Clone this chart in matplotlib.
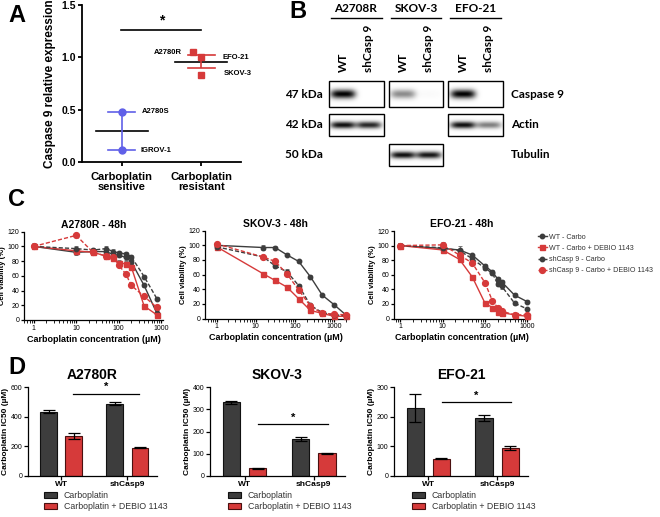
import numpy as np
import matplotlib
matplotlib.use('Agg')
import matplotlib.pyplot as plt
from matplotlib.lines import Line2D
from matplotlib.patches import Rectangle, Patch

plt.rcParams['font.family'] = ['Liberation Sans', 'DejaVu Sans']
plt.rcParams['axes.linewidth'] = 0.9

W, H = 660, 517
fig = plt.figure(figsize=(6.6, 5.17), dpi=100)


def add_ax(l, t, r, b):
    return fig.add_axes([l / W, 1 - b / H, (r - l) / W, (b - t) / H])


DARK = '#3d3d3d'
RED = '#d63a3a'
BLUE = '#6060e8'

# ---------------- Panel A data ----------------
a_groups = ['Carboplatin\nsensitive', 'Carboplatin\nresistant']
a_sens_names = ['A2780S', 'IGROV-1']
a_sens_vals = [0.48, 0.11]
a_res_names = ['A2780R', 'EFO-21', 'SKOV-3']
a_res_vals = [1.05, 1.00, 0.83]

# ---------------- Panel B data ----------------
b_lines = ['A2708R', 'SKOV-3', 'EFO-21']
b_lanes = ['WT', 'shCasp 9']
b_proteins = ['Caspase 9', 'Actin', 'Tubulin']
b_kda = ['47 kDa', '42 kDa', '50 kDa']
# band intensity per protein, per cell line, per lane (None = not probed)
b_caspase9 = [[1.0, 0.0], [0.45, 0.02], [1.0, 0.0]]
b_actin = [[0.95, 0.85], None, [0.95, 0.5]]
b_tubulin = [None, [0.95, 0.92], None]

# ---------------- Panel C data ----------------
c_series = ['WT - Carbo', 'WT - Carbo + DEBIO 1143',
            'shCasp 9 - Carbo', 'shCasp 9 - Carbo + DEBIO 1143']

c1_title = 'A2780R - 48h'
c1_conc = [1, 10, 25, 50, 75, 100, 150, 200, 400, 800]
c1_wt = [100, 92, 93, 93, 89, 88, 85, 79, 47, 9]
c1_wt_deb = [100, 94, 92, 87, 84, 78, 76, 72, 19, 7]
c1_sh = [100, 97, 95, 97, 93, 91, 90, 86, 59, 29]
c1_sh_deb = [100, 115, 92, 87, 86, 75, 62, 47, 32, 17]
c1_wt_err = [4, 4, 3, 3, 3, 3, 3, 3, 2, 2]
c1_wt_deb_err = [3, 3, 3, 2, 3, 3, 4, 3, 3, 2]
c1_sh_err = [3, 3, 3, 4, 4, 3, 3, 3, 2, 2]
c1_sh_deb_err = [3, 2, 3, 2, 2, 3, 2, 2, 2, 3]

c2_title = 'SKOV-3 - 48h'
c2_conc = [1, 15.625, 31.25, 62.5, 125, 250, 500, 1000, 2000]
c2_wt = [100, 97, 97, 87, 78, 57, 32, 19, 5]
c2_wt_deb = [98, 61, 52, 43, 27, 11, 7, 3, 3]
c2_sh = [98, 84, 72, 64, 45, 18, 8, 5, 4]
c2_sh_deb = [102, 84, 78, 61, 39, 17, 7, 6, 5]
c2_wt_err = [2, 3, 2, 2, 2, 2, 2, 2, 2]
c2_wt_deb_err = [2, 2, 2, 2, 2, 2, 2, 2, 2]
c2_sh_err = [2, 2, 3, 3, 2, 2, 2, 2, 2]
c2_sh_deb_err = [2, 2, 2, 2, 2, 2, 2, 2, 2]

c3_title = 'EFO-21 - 48h'
c3_conc = [1, 10, 25, 50, 100, 150, 200, 250, 500, 1000]
c3_wt = [100, 96, 94, 87, 72, 64, 54, 50, 32, 23]
c3_wt_deb = [100, 94, 81, 57, 21, 15, 9, 8, 5, 3]
c3_sh = [100, 97, 93, 82, 69, 62, 47, 44, 21, 13]
c3_sh_deb = [100, 101, 87, 76, 49, 24, 15, 10, 5, 5]
c3_wt_err = [3, 3, 6, 2, 3, 3, 3, 3, 3, 2]
c3_wt_deb_err = [3, 3, 2, 2, 2, 2, 2, 2, 2, 2]
c3_sh_err = [4, 5, 3, 2, 3, 3, 3, 3, 2, 2]
c3_sh_deb_err = [3, 4, 2, 2, 3, 2, 2, 2, 2, 2]

# ---------------- Panel D data ----------------
d_groups = ['WT', 'shCasp9']
d_treat = ['Carboplatin', 'Carboplatin + DEBIO 1143']
d1_title = 'A2780R'
d1_carbo = [435, 490]
d1_carbo_err = [10, 8]
d1_debio = [268, 190]
d1_debio_err = [22, 5]
d2_title = 'SKOV-3'
d2_carbo = [332, 167]
d2_carbo_err = [6, 8]
d2_debio = [33, 101]
d2_debio_err = [2, 2]
d3_title = 'EFO-21'
d3_carbo = [230, 197]
d3_carbo_err = [47, 10]
d3_debio = [58, 95]
d3_debio_err = [3, 7]


def style_axes(ax, fs=6):
    for s in ['top', 'right']:
        ax.spines[s].set_visible(False)
    ax.tick_params(direction='out', length=3, width=0.9, labelsize=fs, pad=1.5)


def panel_label(x, y, s):
    fig.text(x / W, 1 - y / H, s, fontsize=17, fontweight='bold', ha='left', va='center')


# =============== Panel A ===============
axA = add_ax(82, 5, 241, 162)
style_axes(axA, fs=7.5)
axA.spines['left'].set_linewidth(1.3)
axA.spines['bottom'].set_linewidth(1.3)
axA.set_xlim(-0.5, 1.5)
axA.set_ylim(0, 1.5)
axA.set_yticks([0, 0.5, 1.0, 1.5])
axA.set_yticklabels(['0.0', '0.5', '1.0', '1.5'], fontweight='bold', fontsize=7.5)
axA.set_xticks([0, 1])
axA.set_xticklabels(a_groups, fontweight='bold', fontsize=8, linespacing=1.0)
axA.tick_params(axis='x', pad=4, width=1.3)
axA.tick_params(axis='y', width=1.3)
axA.set_ylabel('Caspase 9 relative expression', fontweight='bold', fontsize=8.5, labelpad=4)

sv = np.array(a_sens_vals)
rv = np.array(a_res_vals)
for xi, vals, col, mk in [(0, sv, BLUE, 'o'), (1, rv, RED, 's')]:
    m = vals.mean()
    sem = vals.std(ddof=1) / np.sqrt(len(vals))
    axA.plot([xi - 0.33, xi + 0.33], [m, m], color='black', lw=1.2, zorder=2)
    axA.errorbar([xi], [m], yerr=[sem], fmt='none', ecolor=col, elinewidth=1.2,
                 capsize=0, zorder=3)
    axA.plot([xi - 0.17, xi + 0.17], [m - sem, m - sem], color=col, lw=1.2, zorder=3)
    axA.plot([xi - 0.17, xi + 0.17], [m + sem, m + sem], color=col, lw=1.2, zorder=3)

axA.plot([0, 0], sv, marker='o', ls='none', color=BLUE, ms=5, zorder=4)
res_jit = [-0.105, 0.0, 0.0]
axA.plot(np.array([1, 1, 1]) + np.array(res_jit), rv, marker='s', ls='none',
         color=RED, ms=5, zorder=4)
axA.text(0.25, a_sens_vals[0], a_sens_names[0], fontsize=5.5, fontweight='bold', va='center')
axA.text(0.23, a_sens_vals[1], a_sens_names[1], fontsize=5.5, fontweight='bold', va='center')
axA.text(0.76, a_res_vals[0], a_res_names[0], fontsize=5.5, fontweight='bold', va='center', ha='right')
axA.text(1.27, a_res_vals[1], a_res_names[1], fontsize=5.5, fontweight='bold', va='center', clip_on=False)
axA.text(1.28, a_res_vals[2] + 0.02, a_res_names[2], fontsize=5.5, fontweight='bold', va='center', clip_on=False)
axA.plot([-0.01, 1.0], [1.262, 1.262], color='black', lw=1.2, clip_on=False)
axA.text(0.5, 1.29, '*', fontsize=10, ha='center', va='bottom', fontweight='bold')
panel_label(8, 15, 'A')

# =============== Panel B ===============
axB = add_ax(260, 0, 600, 175)
axB.axis('off')
bfont = ['Lato', 'DejaVu Sans']
line_centers = [356, 416, 476]
lane_off = [-13, 13]
boxes_x = [(329, 384), (389, 443), (448, 503)]
rows_y = [(81, 107), (114, 136), (144, 166)]
row_data = [b_caspase9, b_actin, b_tubulin]
for name, cx, (bx0, bx1) in zip(b_lines, line_centers, boxes_x):
    axB.text(cx, 8, name, fontsize=8.5, fontweight='bold', family=bfont, ha='center', va='center')
    axB.plot([bx0 + 2, bx1 - 2], [18, 18], color='black', lw=1.0)
    for lane, off in zip(b_lanes, lane_off):
        axB.text(cx + off, 72, lane, rotation=90, fontsize=8.5, fontweight='bold',
                 family=bfont, ha='center', va='bottom')

for ri, ((y0, y1), data) in enumerate(zip(rows_y, row_data)):
    yc = (y0 + y1) / 2
    axB.text(323, yc, b_kda[ri], fontsize=8.5, fontweight='bold', family=bfont, ha='right', va='center')
    axB.text(511, yc, b_proteins[ri], fontsize=8.5, fontweight='bold', family=bfont, ha='left', va='center')
    for li, ((bx0, bx1), cx) in enumerate(zip(boxes_x, line_centers)):
        if data[li] is None:
            continue
        nx, ny = 120, 60
        xs = np.linspace(bx0, bx1, nx)
        ys = np.linspace(y0, y1, ny)
        X, Y = np.meshgrid(xs, ys)
        img = np.zeros_like(X)
        hh = 4.5 if ri == 0 else 3.5
        for inten, off in zip(data[li], lane_off):
            lx = cx + off
            img += inten * np.exp(-(np.abs(X - lx) / 12.5) ** 4 - (np.abs(Y - yc) / hh) ** 2)
        img = np.clip(img, 0, 1)
        axB.imshow(img, cmap='gray_r', vmin=0, vmax=1.0, extent=(bx0, bx1, y1, y0),
                   aspect='auto', interpolation='bilinear', zorder=1)
        axB.add_patch(Rectangle((bx0, y0), bx1 - bx0, y1 - y0, fill=False,
                                edgecolor='black', lw=1.0, zorder=2))
axB.set_xlim(260, 600)
axB.set_ylim(175, 0)
fig.text(289 / W, 1 - 12 / H, 'B', fontsize=17, fontweight='bold', ha='left', va='center')

# =============== Panel C ===============
c_specs = [
    (c1_title, c1_conc, [c1_wt, c1_wt_deb, c1_sh, c1_sh_deb],
     [c1_wt_err, c1_wt_deb_err, c1_sh_err, c1_sh_deb_err], (24, 231.7, 163, 320), (0.59, 1115),
     [1, 10, 100, 1000]),
    (c2_title, c2_conc, [c2_wt, c2_wt_deb, c2_sh, c2_sh_deb],
     [c2_wt_err, c2_wt_deb_err, c2_sh_err, c2_sh_deb_err], (205, 230.7, 346, 318.5), (0.502, 2030),
     [1, 10, 100, 1000]),
    (c3_title, c3_conc, [c3_wt, c3_wt_deb, c3_sh, c3_sh_deb],
     [c3_wt_err, c3_wt_deb_err, c3_sh_err, c3_sh_deb_err], (394, 231, 529, 318.5), (0.706, 1096),
     [1, 10, 100, 1000]),
]
s_styles = [
    dict(color=DARK, ls='-', marker='o', ms=3.2),
    dict(color=RED, ls='-', marker='s', ms=3.6),
    dict(color=DARK, ls=(0, (3, 1.5)), marker='o', ms=3.2),
    dict(color=RED, ls=(0, (3, 1.5)), marker='o', ms=4.2),
]
legend_handles = []
for ci, (title, conc, ys, errs, box, xl, xt) in enumerate(c_specs):
    ax = add_ax(*box)
    style_axes(ax, fs=5)
    ax.tick_params(pad=1)
    ax.set_xscale('log')
    ax.set_xlim(*xl)
    ax.set_ylim(0, 120)
    ax.set_yticks(np.arange(0, 121, 20))
    ax.set_xticks(xt)
    ax.set_xticklabels([str(v) for v in xt])
    ax.tick_params(which='minor', length=1.8, width=0.6)
    ax.tick_params(which='major', length=2.5)
    ax.set_title(title, fontsize=7.5, fontweight='bold', pad=3)
    ax.set_xlabel('Carboplatin concentration (µM)', fontsize=6.5, fontweight='bold', labelpad=2)
    ax.set_ylabel('Cell viability (%)', fontsize=5.5, fontweight='bold', labelpad=1)
    for si, (yv, ev) in enumerate(zip(ys, errs)):
        st = s_styles[si]
        ax.errorbar(conc, yv, yerr=ev, fmt='none', ecolor='#777777', elinewidth=0.7,
                    capsize=1.5, capthick=0.7, zorder=2, clip_on=False)
        ln, = ax.plot(conc, yv, color=st['color'], ls=st['ls'], lw=1.0, marker=st['marker'],
                      ms=st['ms'], mec=st['color'], mfc=st['color'], zorder=3, clip_on=False,
                      label=c_series[si])
        if ci == 0:
            legend_handles.append(ln)
fig.legend(handles=legend_handles, loc='upper left', bbox_to_anchor=(534 / W, 1 - 230 / H),
           frameon=False, fontsize=5.1, handlelength=1.3, labelspacing=0.6,
           borderpad=0, handletextpad=0.35, labelcolor='#333333')
panel_label(8, 200, 'C')

# =============== Panel D ===============
d_specs = [
    (d1_title, d1_carbo, d1_carbo_err, d1_debio, d1_debio_err, (28, 387.3, 157, 475.7),
     600, 200, 557, (0.18, 1.18), (40, 487)),
    (d2_title, d2_carbo, d2_carbo_err, d2_debio, d2_debio_err, (210, 387.3, 345, 475.7),
     400, 100, 234, (0.2, 1.2), (224, 487)),
    (d3_title, d3_carbo, d3_carbo_err, d3_debio, d3_debio_err, (394, 387.3, 528, 475.7),
     300, 100, 250, (0.2, 1.2), (408, 487)),
]
bw = 0.25
boff = 0.19
for title, carbo, cerr, deb, derr, box, ymax, ystep, sig_y, sig_x, leg_pos in d_specs:
    ax = add_ax(*box)
    style_axes(ax, fs=5)
    ax.tick_params(pad=1)
    x = np.arange(len(d_groups))
    ax.bar(x - boff, carbo, width=bw, color=DARK, edgecolor='#111111', lw=0.8,
           yerr=cerr, capsize=4, error_kw=dict(elinewidth=0.9, capthick=0.9, ecolor='black'),
           label=d_treat[0])
    ax.bar(x + boff, deb, width=bw, color=RED, edgecolor='#4a1010', lw=0.8,
           yerr=derr, capsize=4, error_kw=dict(elinewidth=0.9, capthick=0.9, ecolor='black'),
           label=d_treat[1])
    ax.set_xlim(-0.5, 1.45)
    ax.set_ylim(0, ymax)
    ax.set_yticks(np.arange(0, ymax + 1, ystep))
    ax.set_xticks(x)
    ax.set_xticklabels(d_groups, fontweight='bold', fontsize=6)
    ax.set_ylabel('Carboplatin IC50 (µM)', fontsize=6, fontweight='bold', labelpad=1)
    ax.set_title(title, fontsize=10, fontweight='bold', pad=6)
    ax.plot(list(sig_x), [sig_y, sig_y], color='black', lw=0.9, clip_on=False)
    ax.text(np.mean(sig_x), sig_y + ymax * 0.015, '*', fontsize=8, fontweight='bold',
            ha='center', va='bottom')
    handles = [Patch(facecolor=DARK, edgecolor='#111111', lw=0.8),
               Patch(facecolor=RED, edgecolor='#4a1010', lw=0.8)]
    fig.legend(handles=handles, labels=d_treat, loc='upper left',
               bbox_to_anchor=(leg_pos[0] / W, 1 - leg_pos[1] / H), frameon=False,
               fontsize=6.3, handlelength=1.4, handleheight=0.7, labelspacing=0.2,
               borderpad=0, handletextpad=0.8, labelcolor='#333333')
panel_label(8, 367, 'D')

fig.savefig('out.png', dpi=100)
